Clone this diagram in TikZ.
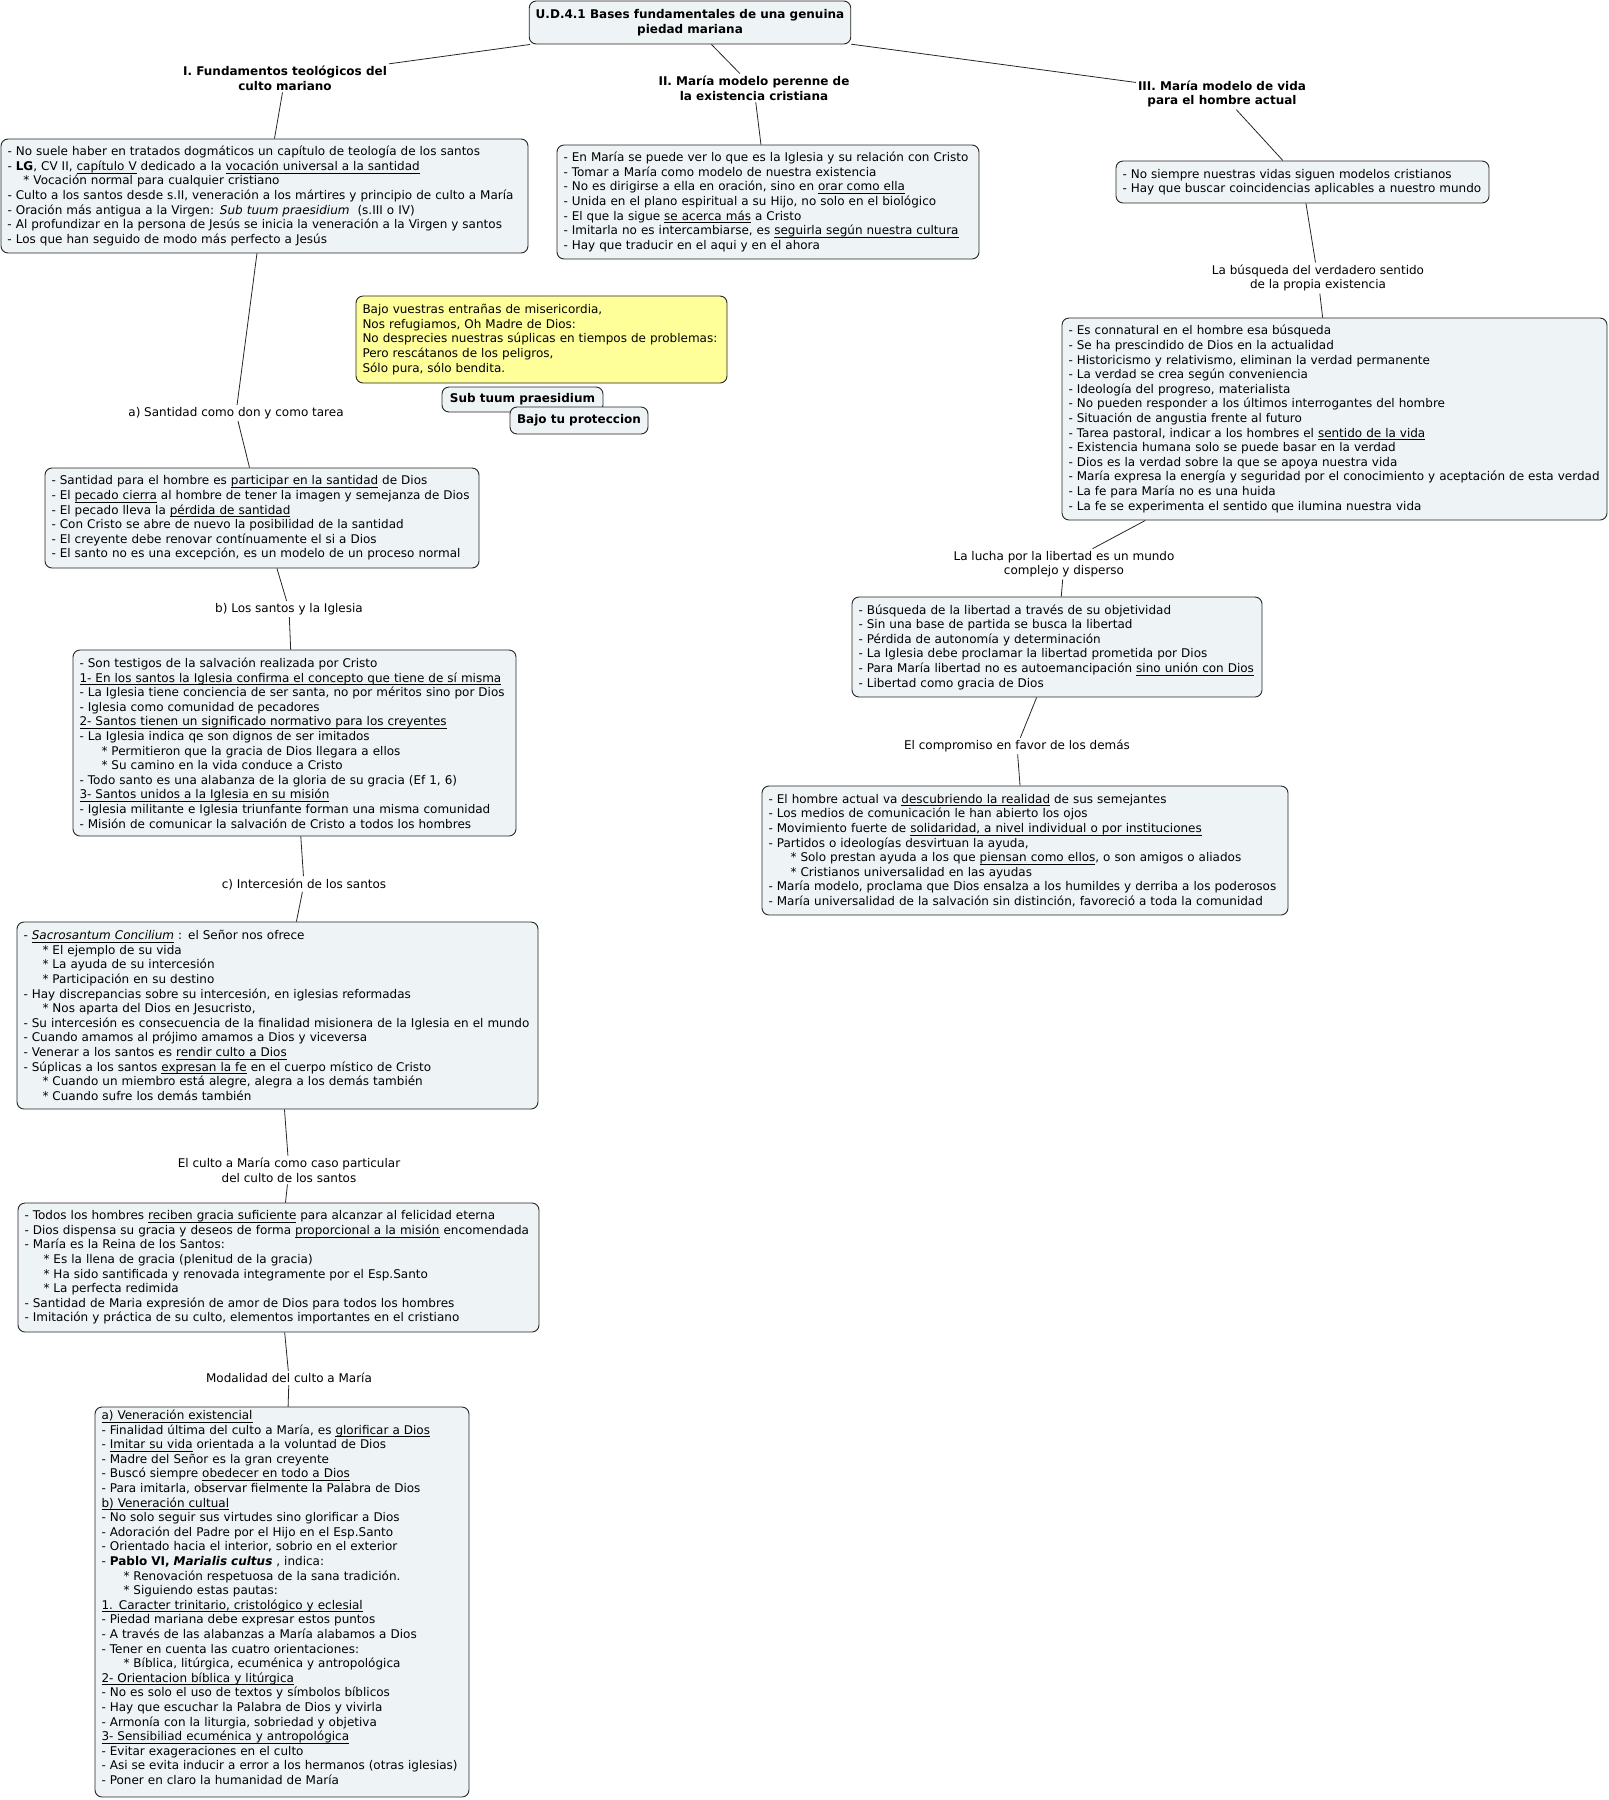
\documentclass[tikz,border=0pt]{standalone}
\usepackage{fontspec}
\setmainfont{DejaVu Sans}
\definecolor{mapfill}{HTML}{EEF3F5}
\definecolor{mapline}{HTML}{262626}
\definecolor{notefill}{HTML}{FFFF99}
\newcommand{\boxfont}{\fontsize{12}{14.6}\selectfont}
\newcommand{\und}[1]{\underline{\raisebox{0pt}[0pt][1pt]{#1}}}
\newcommand{\itm}[1][20pt]{\hspace*{#1}* }

\begin{document}
\begin{tikzpicture}[x=1pt,y=-1pt,
    topic/.style={draw=mapline, line width=0.9pt, fill=mapfill, rounded corners=7pt, align=left, inner xsep=6.5pt, inner ysep=3pt, font=\boxfont},
    note/.style={topic, fill=notefill},
    branch/.style={align=center, font=\boxfont\bfseries, inner sep=2pt},
    linklabel/.style={align=center, font=\boxfont, inner sep=2pt},
    conn/.style={draw=mapline, line width=0.8pt}]
    \useasboundingbox (0,0) rectangle (1609,1800);

    \node[topic, align=center, font=\boxfont\bfseries, minimum width=320pt, minimum height=43pt] (title) at (690,22.5)
      {U.D.4.1 Bases fundamentales de una genuina\\piedad mariana};

    \node[branch] (labI) at (285,78) {I. Fundamentos teológicos del\\culto mariano};
    \node[branch] (labII) at (754,88) {II. María modelo perenne de\\la existencia cristiana};
    \node[branch] (labIII) at (1222,94) {III. María modelo de vida\\para el hombre actual};

    \node[topic, text width=514pt, minimum height=114pt] (fund) at (264.5,196) {%
      - No suele haber en tratados dogmáticos un capítulo de teología de los santos\\
      - \textbf{LG}, CV II, \und{capítulo V} dedicado a la \und{vocación universal a la santidad}\\
      \itm[16pt]Vocación normal para cualquier cristiano\\
      - Culto a los santos desde s.II, veneración a los mártires y principio de culto a María\\
      - Oración más antigua a la Virgen: \textit{Sub tuum praesidium}\ \ (s.III o IV)\\
      - Al profundizar en la persona de Jesús se inicia la veneración a la Virgen y santos\\
      - Los que han seguido de modo más perfecto a Jesús};

    \node[topic, text width=409pt, minimum height=114pt] (perenne) at (768,202) {%
      - En María se puede ver lo que es la Iglesia y su relación con Cristo\\
      - Tomar a María como modelo de nuestra existencia\\
      - No es dirigirse a ella en oración, sino en \und{orar como ella}\\
      - Unida en el plano espiritual a su Hijo, no solo en el biológico\\
      - El que la sigue \und{se acerca más} a Cristo\\
      - Imitarla no es intercambiarse, es \und{seguirla según nuestra cultura}\\
      - Hay que traducir en el aqui y en el ahora};

    \node[topic, text width=360pt, minimum height=42pt] (actual) at (1302.5,182) {%
      - No siempre nuestras vidas siguen modelos cristianos\\
      - Hay que buscar coincidencias aplicables a nuestro mundo};

    \node[linklabel] (labBusq) at (1318,278) {La búsqueda del verdadero sentido\\de la propia existencia};

    \node[topic, text width=532pt, minimum height=202pt] (verdad) at (1334.5,419) {%
      - Es connatural en el hombre esa búsqueda\\
      - Se ha prescindido de Dios en la actualidad\\
      - Historicismo y relativismo, eliminan la verdad permanente\\
      - La verdad se crea según conveniencia\\
      - Ideología del progreso, materialista\\
      - No pueden responder a los últimos interrogantes del hombre\\
      - Situación de angustia frente al futuro\\
      - Tarea pastoral, indicar a los hombres el \und{sentido de la vida}\\
      - Existencia humana solo se puede basar en la verdad\\
      - Dios es la verdad sobre la que se apoya nuestra vida\\
      - María expresa la energía y seguridad por el conocimiento y aceptación de esta verdad\\
      - La fe para María no es una huida\\
      - La fe se experimenta el sentido que ilumina nuestra vida};

    \node[linklabel] (labLucha) at (1064,564) {La lucha por la libertad es un mundo\\complejo y disperso};

    \node[topic, text width=397pt, minimum height=100pt] (libertad) at (1057,647) {%
      - Búsqueda de la libertad a través de su objetividad\\
      - Sin una base de partida se busca la libertad\\
      - Pérdida de autonomía y determinación\\
      - La Iglesia debe proclamar la libertad prometida por Dios\\
      - Para María libertad no es autoemancipación \und{sino unión con Dios}\\
      - Libertad como gracia de Dios};

    \node[linklabel] (labComp) at (1017,746) {El compromiso en favor de los demás};

    \node[topic, text width=513pt, minimum height=129pt] (compromiso) at (1025,850.5) {%
      - El hombre actual va \und{descubriendo la realidad} de sus semejantes\\
      - Los medios de comunicación le han abierto los ojos\\
      - Movimiento fuerte de \und{solidaridad, a nivel individual o por instituciones}\\
      - Partidos o ideologías desvirtuan la ayuda,\\
      \itm[22pt]Solo prestan ayuda a los que \und{piensan como ellos}, o son amigos o aliados\\
      \itm[22pt]Cristianos universalidad en las ayudas\\
      - María modelo, proclama que Dios ensalza a los humildes y derriba a los poderosos\\
      - María universalidad de la salvación sin distinción, favoreció a toda la comunidad};

    \node[note, text width=358pt, minimum height=87pt] (oracion) at (541.5,339.5) {%
      Bajo vuestras entrañas de misericordia,\\
      Nos refugiamos, Oh Madre de Dios:\\
      No desprecies nuestras súplicas en tiempos de problemas:\\
      Pero rescátanos de los peligros,\\
      Sólo pura, sólo bendita.};
    \node[topic, align=center, font=\boxfont\bfseries, minimum width=161pt, minimum height=25pt] (subtuum) at (522.5,399.5) {Sub tuum praesidium};
    \node[topic, align=center, font=\boxfont\bfseries, minimum width=138pt, minimum height=27pt] (bajotu) at (579,420.5) {Bajo tu proteccion};

    \node[linklabel] (labA) at (236,413) {a) Santidad como don y como tarea};

    \node[topic, text width=421pt, minimum height=100pt] (santidad) at (262,518) {%
      - Santidad para el hombre es \und{participar en la santidad} de Dios\\
      - El \und{pecado cierra} al hombre de tener la imagen y semejanza de Dios\\
      - El pecado lleva la \und{pérdida de santidad}\\
      - Con Cristo se abre de nuevo la posibilidad de la santidad\\
      - El creyente debe renovar contínuamente el si a Dios\\
      - El santo no es una excepción, es un modelo de un proceso normal};

    \node[linklabel] (labB) at (289,609) {b) Los santos y la Iglesia};

    \node[topic, text width=430pt, minimum height=186pt] (santos) at (294.5,743) {%
      - Son testigos de la salvación realizada por Cristo\\
      \und{1- En los santos la Iglesia confirma el concepto que tiene de sí misma}\\
      - La Iglesia tiene conciencia de ser santa, no por méritos sino por Dios\\
      - Iglesia como comunidad de pecadores\\
      \und{2- Santos tienen un significado normativo para los creyentes}\\
      - La Iglesia indica qe son dignos de ser imitados\\
      \itm[22pt]Permitieron que la gracia de Dios llegara a ellos\\
      \itm[22pt]Su camino en la vida conduce a Cristo\\
      - Todo santo es una alabanza de la gloria de su gracia (Ef 1, 6)\\
      \und{3- Santos unidos a la Iglesia en su misión}\\
      - Iglesia militante e Iglesia triunfante forman una misma comunidad\\
      - Misión de comunicar la salvación de Cristo a todos los hombres};

    \node[linklabel] (labC) at (304,884) {c) Intercesión de los santos};

    \node[topic, text width=508pt, minimum height=187pt] (intercesion) at (277.5,1015.5) {%
      - \und{\textit{Sacrosantum Concilium}} : el Señor nos ofrece\\
      \itm[19pt]El ejemplo de su vida\\
      \itm[19pt]La ayuda de su intercesión\\
      \itm[19pt]Participación en su destino\\
      - Hay discrepancias sobre su intercesión, en iglesias reformadas\\
      \itm[19pt]Nos aparta del Dios en Jesucristo,\\
      - Su intercesión es consecuencia de la finalidad misionera de la Iglesia en el mundo\\
      - Cuando amamos al prójimo amamos a Dios y viceversa\\
      - Venerar a los santos es \und{rendir culto a Dios}\\
      - Súplicas a los santos \und{expresan la fe} en el cuerpo místico de Cristo\\
      \itm[19pt]Cuando un miembro está alegre, alegra a los demás también\\
      \itm[19pt]Cuando sufre los demás también};

    \node[linklabel] (labCulto) at (289,1170) {El culto a María como caso particular\\del culto de los santos};

    \node[topic, text width=508pt, minimum height=129pt] (culto) at (278.5,1267.5) {%
      - Todos los hombres \und{reciben gracia suficiente} para alcanzar al felicidad eterna\\
      - Dios dispensa su gracia y deseos de forma \und{proporcional a la misión} encomendada\\
      - María es la Reina de los Santos:\\
      \itm[19pt]Es la llena de gracia (plenitud de la gracia)\\
      \itm[19pt]Ha sido santificada y renovada integramente por el Esp.Santo\\
      \itm[19pt]La perfecta redimida\\
      - Santidad de Maria expresión de amor de Dios para todos los hombres\\
      - Imitación y práctica de su culto, elementos importantes en el cristiano};

    \node[linklabel] (labMod) at (289,1378) {Modalidad del culto a María};

    \node[topic, text width=361pt, minimum height=390pt] (modalidad) at (282,1602) {%
      \und{a) Veneración existencial}\\
      - Finalidad última del culto a María, es \und{glorificar a Dios}\\
      - \und{Imitar su vida} orientada a la voluntad de Dios\\
      - Madre del Señor es la gran creyente\\
      - Buscó siempre \und{obedecer en todo a Dios}\\
      - Para imitarla, observar fielmente la Palabra de Dios\\
      \und{b) Veneración cultual}\\
      - No solo seguir sus virtudes sino glorificar a Dios\\
      - Adoración del Padre por el Hijo en el Esp.Santo\\
      - Orientado hacia el interior, sobrio en el exterior\\
      - \textbf{Pablo VI, \textit{Marialis cultus}} , indica:\\
      \itm[22pt]Renovación respetuosa de la sana tradición.\\
      \itm[22pt]Siguiendo estas pautas:\\
      \und{1. Caracter trinitario, cristológico y eclesial}\\
      - Piedad mariana debe expresar estos puntos\\
      - A través de las alabanzas a María alabamos a Dios\\
      - Tener en cuenta las cuatro orientaciones:\\
      \itm[22pt]Bíblica, litúrgica, ecuménica y antropológica\\
      \und{2- Orientacion bíblica y litúrgica}\\
      - No es solo el uso de textos y símbolos bíblicos\\
      - Hay que escuchar la Palabra de Dios y vivirla\\
      - Armonía con la liturgia, sobriedad y objetiva\\
      \und{3- Sensibiliad ecuménica y antropológica}\\
      - Evitar exageraciones en el culto\\
      - Asi se evita inducir a error a los hermanos (otras iglesias)\\
      - Poner en claro la humanidad de María};

    \draw[conn] (title) -- (labI);
    \draw[conn] (title) -- (labII);
    \draw[conn] (title) -- (labIII);
    \draw[conn] (labI) -- (fund);
    \draw[conn] (labII) -- (perenne);
    \draw[conn] (labIII) -- (actual);
    \draw[conn] (actual) -- (labBusq);
    \draw[conn] (labBusq) -- (verdad);
    \draw[conn] (verdad) -- (labLucha);
    \draw[conn] (labLucha) -- (libertad);
    \draw[conn] (libertad) -- (labComp);
    \draw[conn] (labComp) -- (compromiso);
    \draw[conn] (fund) -- (labA);
    \draw[conn] (labA) -- (santidad);
    \draw[conn] (santidad) -- (labB);
    \draw[conn] (labB) -- (santos);
    \draw[conn] (santos) -- (labC);
    \draw[conn] (labC) -- (intercesion);
    \draw[conn] (intercesion) -- (labCulto);
    \draw[conn] (labCulto) -- (culto);
    \draw[conn] (culto) -- (labMod);
    \draw[conn] (labMod) -- (modalidad);
\end{tikzpicture}
\end{document}
